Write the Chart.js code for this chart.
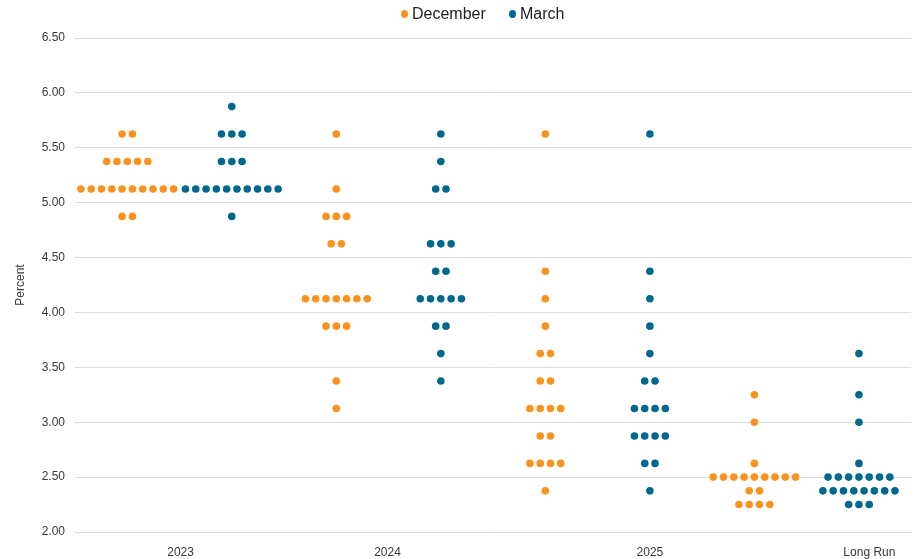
<!DOCTYPE html>
<html>
<head>
<meta charset="utf-8">
<script src="https://cdn.jsdelivr.net/npm/chart.js@4.4.1/dist/chart.umd.min.js"></script>
<style>
  html, body { margin: 0; padding: 0; background: #fff; }
  #wrap { position: relative; width: 915px; height: 559px; }
  #legend {
    position: absolute; top: 4px; left: 0; width: 915px; height: 20px;
    font-family: 'Liberation Sans', Arial, sans-serif; font-size: 16px; color: #222;
  }
  #legend .item { position: absolute; top: 0; line-height: 20px; white-space: nowrap; }
  #legend .dot {
    display: inline-block; width: 7px; height: 8px; border-radius: 50%;
    margin-right: 4px; vertical-align: 1px;
  }
</style>
</head>
<body>
<div id="wrap">
  <div id="legend"></div>
  <canvas id="dots"></canvas>
</div>
<script>
// projection rows: [rate, number of participants]
const december2023 = [[5.625, 2], [5.375, 5], [5.125, 10], [4.875, 2]];
const march2023 = [[5.875, 1], [5.625, 3], [5.375, 3], [5.125, 10], [4.875, 1]];
const december2024 = [[5.625, 1], [5.125, 1], [4.875, 3], [4.625, 2], [4.125, 7], [3.875, 3], [3.375, 1], [3.125, 1]];
const march2024 = [[5.625, 1], [5.375, 1], [5.125, 2], [4.625, 3], [4.375, 2], [4.125, 5], [3.875, 2], [3.625, 1], [3.375, 1]];
const december2025 = [[5.625, 1], [4.375, 1], [4.125, 1], [3.875, 1], [3.625, 2], [3.375, 2], [3.125, 4], [2.875, 2], [2.625, 4], [2.375, 1]];
const march2025 = [[5.625, 1], [4.375, 1], [4.125, 1], [3.875, 1], [3.625, 1], [3.375, 2], [3.125, 4], [2.875, 4], [2.625, 2], [2.375, 1]];
const decemberLongRun = [[3.25, 1], [3.0, 1], [2.625, 1], [2.5, 9], [2.375, 2], [2.25, 4]];
const marchLongRun = [[3.625, 1], [3.25, 1], [3.0, 1], [2.625, 1], [2.5, 7], [2.375, 8], [2.25, 3]];

const seriesNames = ['December', 'March'];
const xLabels = ['2023', '2024', '2025', 'Long Run'];
const xLabelSlots = [1.01, 2.99, 5.5, 7.6];
const yTicks = [2.0, 2.5, 3.0, 3.5, 4.0, 4.5, 5.0, 5.5, 6.0, 6.5];

const ORANGE = '#F7931E';
const BLUE = '#00688C';
const TEXT = '#383838';
const DOT_GAP = 0.0985; // horizontal step between dots, in slot units

// spread each row of dots around its slot centre
function toPoints(rows, slot) {
  const pts = [];
  rows.forEach(([rate, n]) => {
    for (let i = 0; i < n; i++) {
      pts.push({ x: slot + 0.5 + (i - (n - 1) / 2) * DOT_GAP, y: rate });
    }
  });
  return pts;
}

const decPoints = [].concat(
  toPoints(december2023, 0), toPoints(december2024, 2),
  toPoints(december2025, 4), toPoints(decemberLongRun, 6)
);
const marPoints = [].concat(
  toPoints(march2023, 1), toPoints(march2024, 3),
  toPoints(march2025, 5), toPoints(marchLongRun, 7)
);

// simple html legend, placed like the original
const legendEl = document.getElementById('legend');
[[seriesNames[0], ORANGE, 401], [seriesNames[1], BLUE, 509]].forEach(([name, color, left]) => {
  const item = document.createElement('span');
  item.className = 'item';
  item.style.left = left + 'px';
  item.innerHTML = '<span class="dot" style="background:' + color + '"></span>' + name;
  legendEl.appendChild(item);
});

Chart.defaults.font.family = "'Liberation Sans', Arial, sans-serif";

new Chart(document.getElementById('dots'), {
  type: 'scatter',
  data: {
    datasets: [
      { label: seriesNames[0], data: decPoints, backgroundColor: ORANGE, borderWidth: 0, pointRadius: 3.8, pointHoverRadius: 3.8 },
      { label: seriesNames[1], data: marPoints, backgroundColor: BLUE, borderWidth: 0, pointRadius: 3.8, pointHoverRadius: 3.8 }
    ]
  },
  options: {
    responsive: true,
    maintainAspectRatio: false,
    animation: false,
    layout: { padding: { left: 0, right: 3, top: 38, bottom: 0 } },
    plugins: {
      tooltip: { enabled: false },
      legend: { display: false }
    },
    scales: {
      x: {
        type: 'linear',
        min: 0,
        max: 8,
        grid: { display: false },
        border: { display: false },
        afterBuildTicks: (axis) => { axis.ticks = xLabelSlots.map(v => ({ value: v })); },
        afterFit: (axis) => { axis.height = 27; },
        ticks: {
          autoSkip: false,
          maxRotation: 0,
          padding: 5,
          color: TEXT,
          font: { size: 12 },
          callback: (v) => xLabels[xLabelSlots.indexOf(v)]
        }
      },
      y: {
        min: 2,
        max: 6.5,
        grid: { color: '#dcdcdc', lineWidth: 1, drawTicks: false },
        border: { display: false },
        afterBuildTicks: (axis) => { axis.ticks = yTicks.map(v => ({ value: v })); },
        afterFit: (axis) => { axis.width = 75; },
        title: { display: true, text: 'Percent', color: TEXT, font: { size: 12 }, padding: { top: 13, bottom: 0 } },
        ticks: {
          padding: 10,
          color: TEXT,
          font: { size: 12 },
          callback: (v) => Number(v).toFixed(2)
        }
      }
    }
  }
});
</script>
</body>
</html>
